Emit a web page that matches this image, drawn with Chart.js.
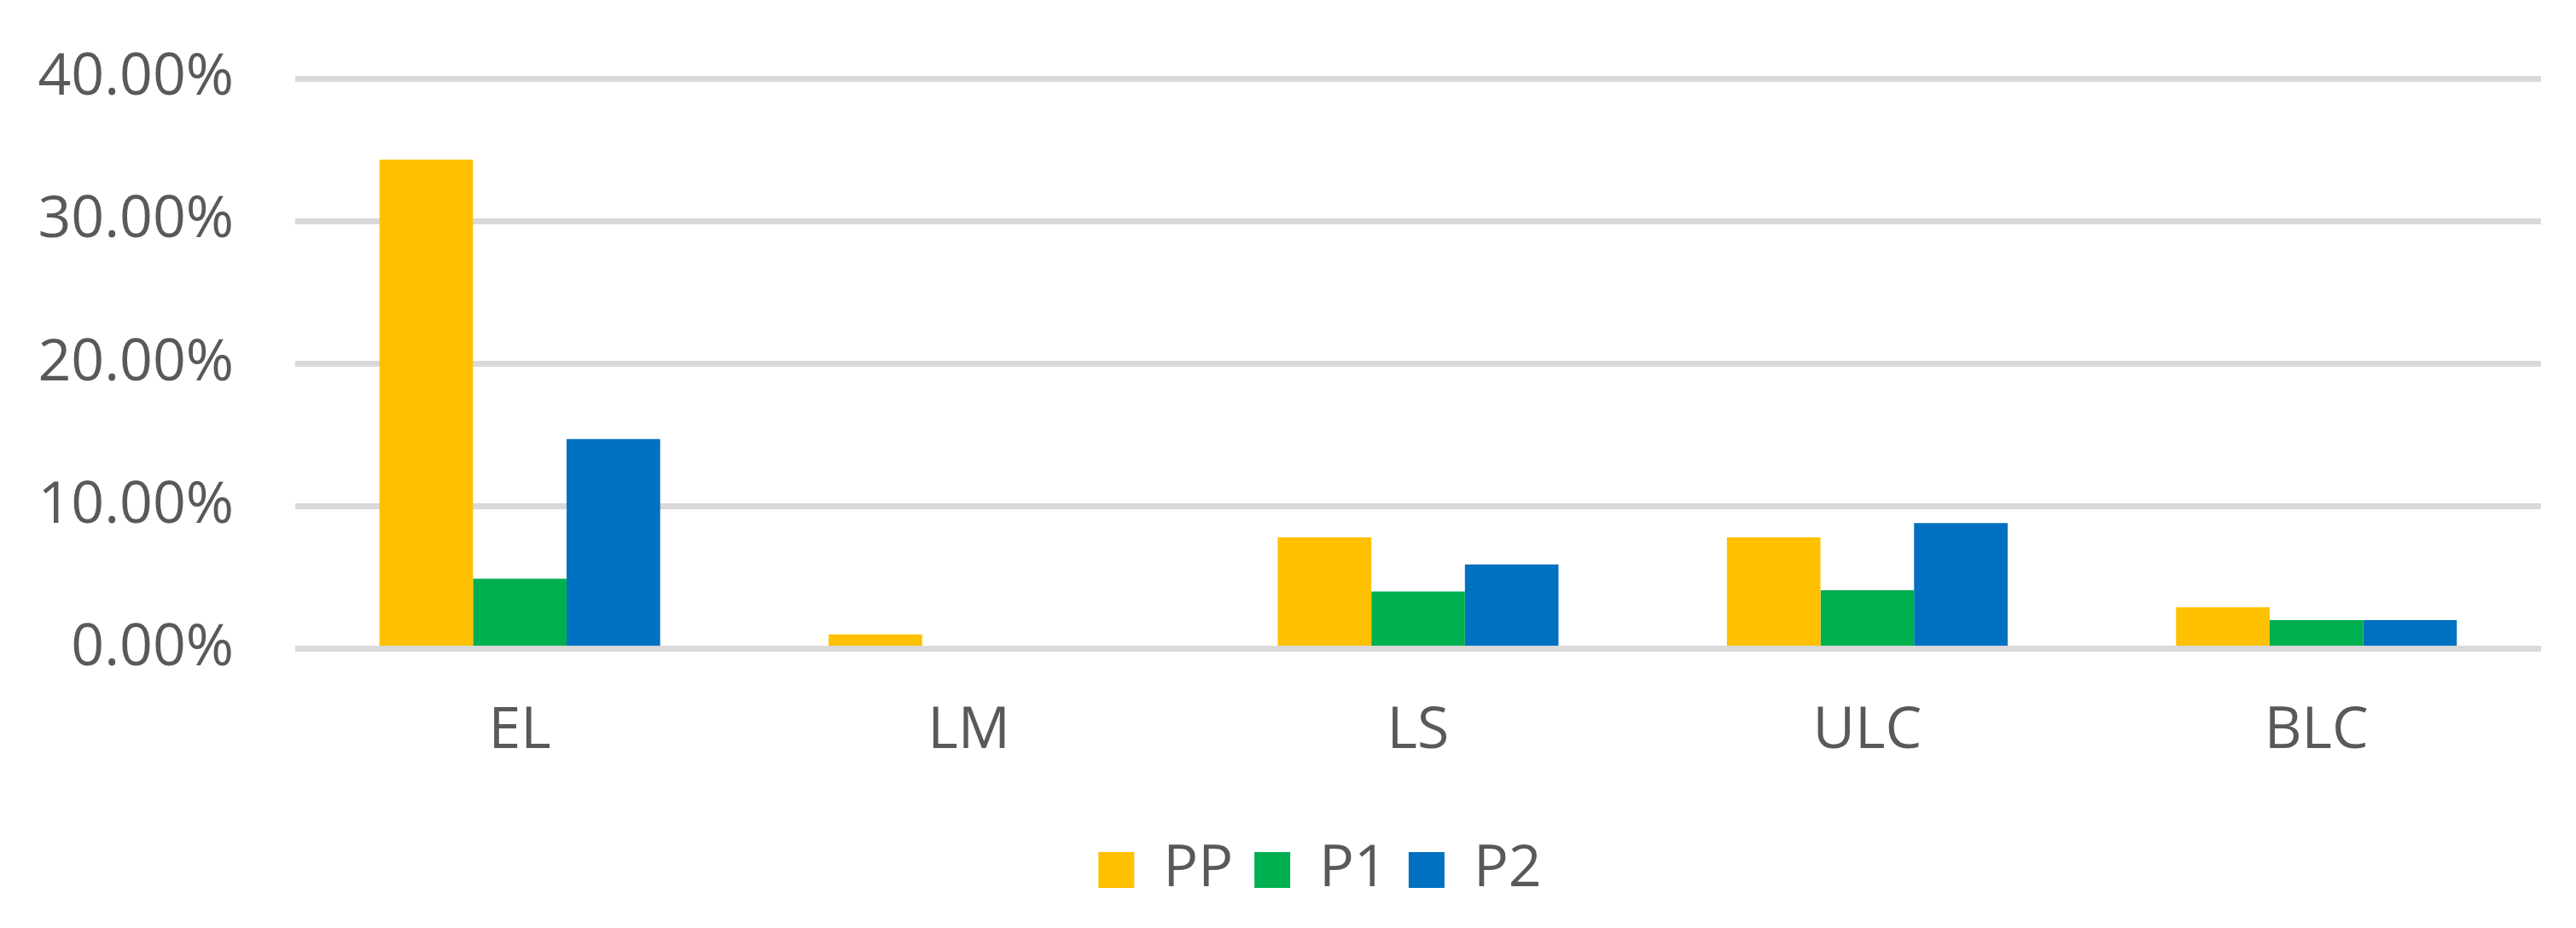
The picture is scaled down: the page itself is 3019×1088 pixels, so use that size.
<!DOCTYPE html>
<html>
<head>
<meta charset="utf-8">
<script src="https://cdn.jsdelivr.net/npm/chart.js@4/dist/chart.umd.min.js"></script>
<style>
  html, body { margin: 0; padding: 0; background: #fff; }
  #wrap { width: 3019px; height: 1088px; }
</style>
</head>
<body>
<div id="wrap"><canvas id="myChart"></canvas></div>
<script>
const categories = ['EL', 'LM', 'LS', 'ULC', 'BLC'];
const ppValues = [34.3, 1.0, 7.8, 7.8, 2.9];
const p1Values = [4.9, 0, 4.0, 4.1, 2.0];
const p2Values = [14.7, 0, 5.9, 8.8, 2.0];
const yTicks = [0, 10, 20, 30, 40];

const textColor = '#595959';
const font = { family: '"Open Sans", "Liberation Sans", sans-serif', size: 68 };

// the legend sits a bit right of the page centre in the original
const shiftLegend = {
    id: 'shiftLegend',
    afterLayout(chart) {
        chart.legend.left += 58;
        chart.legend.right += 58;
    }
};

const ctx = document.getElementById('myChart');
const myChart = new Chart(ctx, {
    type: 'bar',
    data: {
        labels: categories,
        datasets: [
            { label: 'PP', data: ppValues, backgroundColor: '#ffc000' },
            { label: 'P1', data: p1Values, backgroundColor: '#00b050' },
            { label: 'P2', data: p2Values, backgroundColor: '#0070c0' }
        ]
    },
    plugins: [shiftLegend],
    options: {
        responsive: true,
        maintainAspectRatio: false,
        animation: false,
        layout: { padding: { top: 92, right: 41, bottom: 24, left: 0 } },
        datasets: {
            bar: { categoryPercentage: 0.625, barPercentage: 1.0, borderWidth: 0 }
        },
        plugins: {
            tooltip: { enabled: false },
            legend: {
                position: 'bottom',
                labels: {
                    color: textColor,
                    font: font,
                    boxWidth: 42,
                    boxHeight: 42,
                    padding: 25
                }
            }
        },
        scales: {
            x: {
                afterFit: (scale) => { scale.height += 15; },
                grid: { display: false },
                border: { display: false },
                ticks: { color: textColor, font: font, padding: 48 }
            },
            y: {
                min: 0,
                max: 40,
                afterFit: (scale) => {
                    scale.width = 346;
                    scale.paddingTop = 0;
                    scale.paddingBottom = 0;
                },
                afterBuildTicks: (scale) => { scale.ticks = yTicks.map(v => ({ value: v })); },
                grid: { color: '#d9d9d9', lineWidth: 7, drawTicks: false },
                border: { display: false },
                ticks: {
                    color: textColor,
                    font: font,
                    padding: 72,
                    callback: (v) => v.toFixed(2) + '%'
                }
            }
        }
    }
});
</script>
</body>
</html>
